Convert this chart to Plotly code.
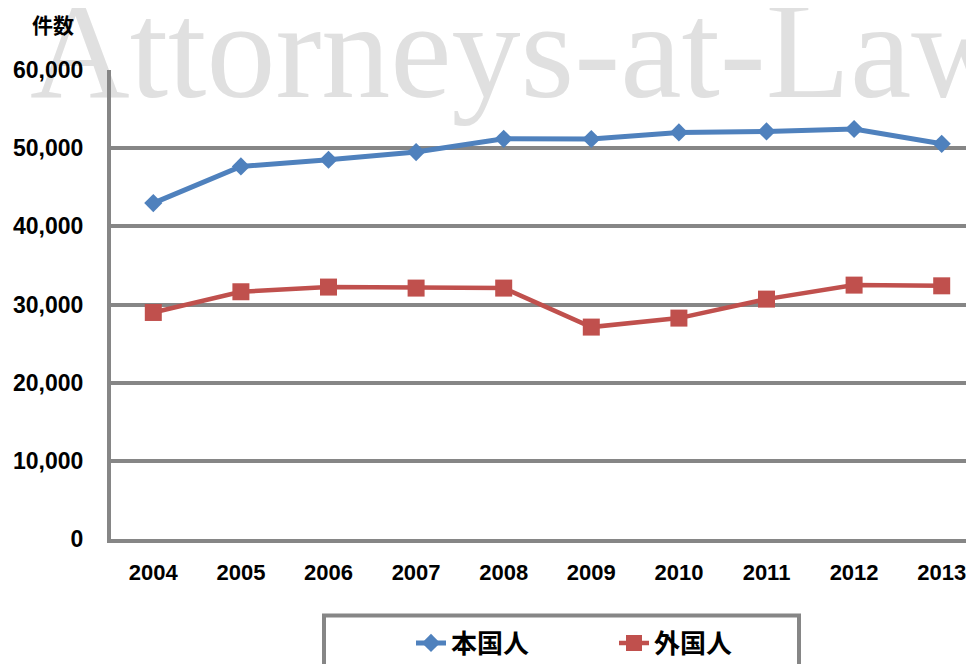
import plotly.graph_objects as go

years = ["2004", "2005", "2006", "2007", "2008", "2009", "2010", "2011", "2012", "2013"]
domestic = [42970, 47660, 48520, 49500, 51200, 51170, 52010, 52140, 52450, 50560]
foreign = [28980, 31630, 32230, 32100, 32100, 27110, 28260, 30690, 32480, 32390]
series_names = ["本国人", "外国人"]
y_ticks = [0, 10000, 20000, 30000, 40000, 50000, 60000]
y_axis_title = "件数"
watermark = "Attorneys-at-Law"

OFF = 8  # page body margin
W, H = 974 - OFF, 664 - OFF
ML, MR, MT, MB = 111 - OFF, 0, 70 - OFF, 125
PW, PH = W - ML - MR, H - MT - MB

def px_to_paper_x(px):
    return (px - OFF - ML) / PW

def px_to_paper_y(py):
    return (H - MB - (py - OFF)) / PH

GRID = "#868686"
BLUE = "#4f81bd"
RED = "#c0504d"
FONT = "Liberation Sans, Arial, sans-serif"
CJK = "Noto Sans CJK JP, sans-serif"

WM_SIZE = 138
wm_width = 7.109 * WM_SIZE
wm_cx = 30 + wm_width / 2
wm_baseline = 97
wm_py = wm_baseline + 0.4 * WM_SIZE

fig = go.Figure()

# watermark on first (hidden) subplot so it sits beneath gridlines of the main subplot
fig.add_trace(go.Scatter(
    x=[px_to_paper_x(wm_cx)], y=[px_to_paper_y(wm_py)], mode="text",
    text=[watermark + "<br> "],
    textposition="middle center", cliponaxis=False, showlegend=False, hoverinfo="skip",
    textfont=dict(family="Liberation Serif, Times New Roman, serif", size=WM_SIZE, color="#e0e0e0"),
    xaxis="x", yaxis="y",
))

fig.add_trace(go.Scatter(
    x=years, y=domestic, name=series_names[0], mode="lines+markers",
    line=dict(color=BLUE, width=5),
    marker=dict(symbol="diamond", size=14, color=BLUE),
    xaxis="x2", yaxis="y2", cliponaxis=False,
))
fig.add_trace(go.Scatter(
    x=years, y=foreign, name=series_names[1], mode="lines+markers",
    line=dict(color=RED, width=4.5),
    marker=dict(symbol="square", size=17, color=RED),
    xaxis="x2", yaxis="y2", cliponaxis=False,
))

spacing = 87.6
r0 = -(153.3 - 111) / spacing
r1 = r0 + PW / spacing

fig.update_layout(
    width=W, height=H,
    margin=dict(l=ML, r=MR, t=MT, b=MB, autoexpand=False),
    paper_bgcolor="white", plot_bgcolor="rgba(0,0,0,0)",
    xaxis=dict(domain=[0, 1], range=[0, 1], visible=False, fixedrange=True),
    yaxis=dict(domain=[0, 1], range=[0, 1], visible=False, fixedrange=True),
    xaxis2=dict(
        domain=[0, 1], anchor="y2", type="category", range=[r0, r1],
        showgrid=False, showline=True, linecolor=GRID, linewidth=4,
        ticks="", ticklabelstandoff=11,
        tickfont=dict(family=FONT, size=22, color="black", weight="bold"),
    ),
    yaxis2=dict(
        domain=[0, 1], anchor="x2", range=[0, 60000], tickvals=y_ticks,
        tickformat=",d", showgrid=True, gridcolor=GRID, gridwidth=4,
        zeroline=False, showline=True, linecolor=GRID, linewidth=4,
        ticks="", ticklabelstandoff=19,
        tickfont=dict(family=FONT, size=23, color="black", weight="bold"),
    ),
    showlegend=True,
    legend=dict(
        orientation="h", xref="container", yref="container",
        x=(411 - OFF) / W, xanchor="left", y=1 - (643 - OFF) / H, yanchor="middle",
        entrywidth=158, entrywidthmode="pixels",
        font=dict(family=CJK, size=26, color="black", weight="bold"),
        bgcolor="rgba(0,0,0,0)", borderwidth=0,
    ),
    shapes=[dict(
        type="rect", xref="paper", yref="paper",
        x0=px_to_paper_x(324), x1=px_to_paper_x(799),
        y0=px_to_paper_y(720), y1=px_to_paper_y(615.5),
        line=dict(color=GRID, width=4), fillcolor="rgba(0,0,0,0)", layer="above",
    )],
    annotations=[dict(
        text=y_axis_title, xref="paper", yref="paper",
        x=px_to_paper_x(53), y=px_to_paper_y(24), xanchor="center", yanchor="middle",
        showarrow=False, font=dict(family=CJK, size=21, color="black", weight="bold"),
    )],
)

fig.write_html("out.html")
